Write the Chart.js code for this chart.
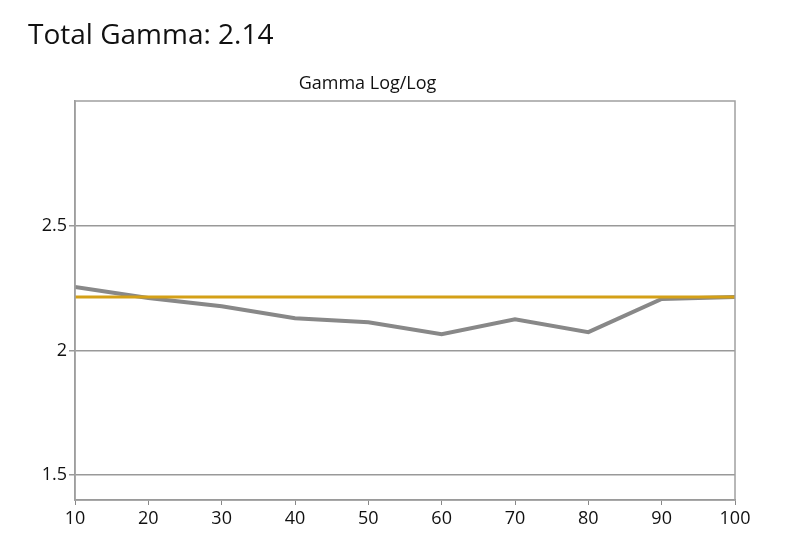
<!DOCTYPE html>
<html><head><meta charset="utf-8">
<script src="https://cdn.jsdelivr.net/npm/chart.js@4"></script>
<style>
body{margin:0;background:#fff;width:792px;height:551px;overflow:hidden;position:relative;font-family:"Open Sans","Liberation Sans",sans-serif}
#t{position:absolute;left:28px;top:14px;font-size:28px;color:#111}
#w{position:absolute;left:0;top:0;width:792px;height:551px}
</style></head><body>
<div id="w"><canvas id="c"></canvas></div>
<div id="t">Total Gamma: 2.14</div>
<script>
const levels=[10,20,30,40,50,60,70,80,90,100];
const gamma=[2.254,2.21,2.177,2.129,2.113,2.065,2.125,2.073,2.206,2.214];
const target=[2.214,2.214,2.214,2.214,2.214,2.214,2.214,2.214,2.214,2.214];
const yTicks=[1.5,2,2.5];
const xTicks=levels;
const F='"Open Sans","Liberation Sans",sans-serif';
const box={id:'box',afterDraw(c){const a=c.chartArea,x=c.ctx;x.save();x.strokeStyle='#a0a0a0';x.lineWidth=1.5;x.strokeRect(a.left,a.top,a.right-a.left,a.bottom-a.top);x.restore();}};
new Chart(document.getElementById('c'),{type:'line',
data:{datasets:[
{data:levels.map((l,i)=>({x:l,y:target[i]})),borderColor:'#d4a017',borderWidth:3,pointRadius:0,tension:0,order:0},
{data:levels.map((l,i)=>({x:l,y:gamma[i]})),borderColor:'#888888',borderWidth:4,pointRadius:0,tension:0,order:1}]},
options:{responsive:true,maintainAspectRatio:false,animation:false,
layout:{padding:{top:73.4,right:57,left:0,bottom:0}},
plugins:{legend:{display:false},tooltip:{enabled:false},
title:{display:true,text:'Gamma Log/Log',color:'#111',font:{size:18,family:F,weight:'normal'},padding:{top:0,bottom:6}}},
scales:{
x:{type:'linear',min:10,max:100,afterBuildTicks(s){s.ticks=xTicks.map(v=>({value:v}));},afterFit(s){s.height=51;},
grid:{drawOnChartArea:false,drawTicks:true,tickLength:5,color:'#888'},border:{color:'#888',width:1.5},
ticks:{color:'#111',font:{size:18,family:F},maxRotation:0}},
y:{min:1.4,max:3.0,afterBuildTicks(s){s.ticks=yTicks.map(v=>({value:v}));},afterFit(s){s.width=75;},
grid:{color:'#999',lineWidth:1.5,tickLength:6},border:{color:'#999',width:1.5},
ticks:{color:'#111',font:{size:18,family:F},padding:2,callback:v=>String(v)}}}},
plugins:[box]});
</script></body></html>
